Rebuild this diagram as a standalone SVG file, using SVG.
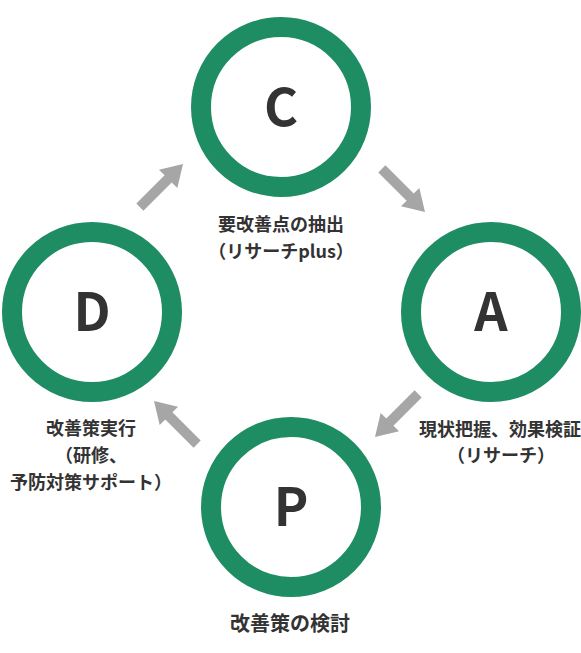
<svg xmlns="http://www.w3.org/2000/svg" xmlns:xlink="http://www.w3.org/1999/xlink" width="581" height="653" viewBox="0 0 581 653">
<style>
.ring{fill:#fff;stroke:#1f8d64;stroke-width:20}
.letter{font-family:"Noto Sans CJK JP","Noto Sans",sans-serif;font-weight:700;font-size:52px;fill:#333;text-anchor:middle}
.lbl{font-family:"Noto Sans CJK JP",sans-serif;font-weight:700;font-size:18px;fill:#333;text-anchor:middle}
.lbl2{font-family:"Noto Sans CJK JP",sans-serif;font-weight:700;font-size:20px;fill:#333;text-anchor:middle}
.arr{fill:#a6a6a6}
</style>
<defs>
<polygon id="arr" class="arr" points="-61,-5 -21,-5 -21,-13 0,0 -21,13 -21,5 -61,5"/>
</defs>
<rect width="581" height="653" fill="#fff"/>
<g id="connectors">
<use xlink:href="#arr" transform="translate(183,164) rotate(-45)"/>
<use xlink:href="#arr" transform="translate(425,212) rotate(45)"/>
<use xlink:href="#arr" transform="translate(375,437) rotate(135)"/>
<use xlink:href="#arr" transform="translate(154,401) rotate(-135)"/>
</g>
<g id="node-c">
<circle class="ring" cx="281" cy="107" r="80"/>
<text class="letter" x="281" y="126">C</text>
<text class="lbl" x="281" y="231">要改善点の抽出</text>
<text class="lbl" x="281" y="258">（リサーチplus）</text>
</g>
<g id="node-a">
<circle class="ring" cx="491" cy="312" r="80"/>
<text class="letter" x="491" y="331">A</text>
<text class="lbl" x="500" y="436">現状把握、効果検証</text>
<text class="lbl" x="501" y="462">（リサーチ）</text>
</g>
<g id="node-p">
<circle class="ring" cx="291" cy="507" r="80"/>
<text class="letter" x="291" y="526">P</text>
<text class="lbl2" x="290" y="631">改善策の検討</text>
</g>
<g id="node-d">
<circle class="ring" cx="92" cy="312" r="80"/>
<text class="letter" x="92" y="331">D</text>
<text class="lbl" x="91" y="435">改善策実行</text>
<text class="lbl" x="91" y="462">（研修、</text>
<text class="lbl" x="91" y="489">予防対策サポート）</text>
</g>
</svg>
